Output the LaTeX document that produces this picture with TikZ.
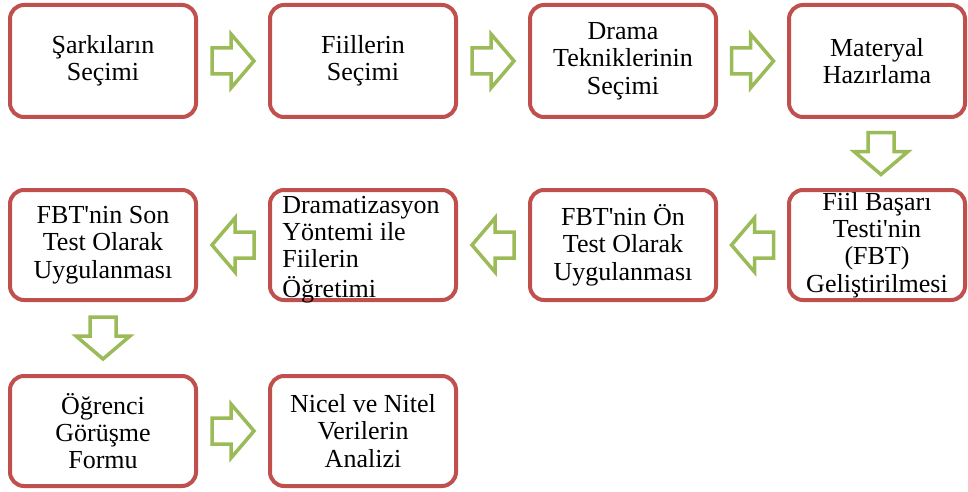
\documentclass[tikz,border=0pt]{standalone}
\usepackage{fontspec}
\setmainfont{Liberation Serif}
\newfontfamily\plainserif{Liberation Serif}
\definecolor{boxred}{HTML}{C0504D}
\definecolor{arrowgreen}{HTML}{9BBB59}
\begin{document}
\begin{tikzpicture}[x=1pt,y=-1pt,
  stepbox/.style={draw=boxred, line width=4pt, rounded corners=14pt, fill=white,
    minimum width=186pt, minimum height=110pt, inner sep=0pt, align=center,
    font=\plainserif\fontsize{26}{27.3}\selectfont},
  blockarrow/.pic={\draw[draw=arrowgreen, line width=3.5pt, line join=miter]
    (-21,-13) -- (-2,-13) -- (-2,-27) -- (21,0) -- (-2,27) -- (-2,13) -- (-21,13) -- cycle;}]
\useasboundingbox (0,0) rectangle (968,492);
% row 1
\node[stepbox, minimum height=112pt] (s1) at (103,61) {Şarkıların\\Seçimi};
\node[stepbox, minimum height=112pt] (s2) at (363,61) {Fiillerin\\Seçimi};
\node[stepbox, minimum height=112pt] (s3) at (623,61) {Drama\\Tekniklerinin\\Seçimi};
\node[stepbox, minimum height=112pt, minimum width=176pt] (s4) at (877,61) {Materyal\\Hazırlama};
% row 2
\node[stepbox] (t1) at (103,245) {FBT'nin Son\\Test Olarak\\Uygulanması};
\node[stepbox] (t2) at (363,245) {\hspace*{-4pt}\raisebox{-11pt}[0pt][0pt]{\begin{tabular}{@{}l@{}}Dramatizasyon\\Yöntemi ile\\Fiilerin\\Öğretimi\end{tabular}}};
\node[stepbox] (t3) at (623,245) {FBT'nin Ön\\Test Olarak\\Uygulanması};
\node[stepbox, minimum width=176pt] (t4) at (877,245) {Fiil Başarı\\Testi'nin\\(FBT)\\Geliştirilmesi};
% row 3
\node[stepbox] (u1) at (103,431) {Öğrenci\\Görüşme\\Formu};
\node[stepbox] (u2) at (363,431) {Nicel ve Nitel\\Verilerin\\Analizi};
% arrows
\path (s1.east) -- (s2.west) coordinate[midway] (a1);
\path (s2.east) -- (s3.west) coordinate[midway] (a2);
\path (s3.east) -- (s4.west) coordinate[midway] (a3);
\path ([xshift=4pt]s4.south) -- ([xshift=4pt]t4.north) coordinate[midway] (a4);
\path (t4.west) -- (t3.east) coordinate[midway] (a5);
\path (t3.west) -- (t2.east) coordinate[midway] (a6);
\path (t2.west) -- (t1.east) coordinate[midway] (a7);
\path (t1.south) -- (u1.north) coordinate[midway] (a8);
\path (u1.east) -- (u2.west) coordinate[midway] (a9);
\pic at (a1) {blockarrow};
\pic at (a2) {blockarrow};
\pic at (a3) {blockarrow};
\pic[rotate=-90] at (a4) {blockarrow};
\pic[rotate=180] at (a5) {blockarrow};
\pic[rotate=180] at (a6) {blockarrow};
\pic[rotate=180] at (a7) {blockarrow};
\pic[rotate=-90] at (a8) {blockarrow};
\pic at (a9) {blockarrow};
\end{tikzpicture}
\end{document}
